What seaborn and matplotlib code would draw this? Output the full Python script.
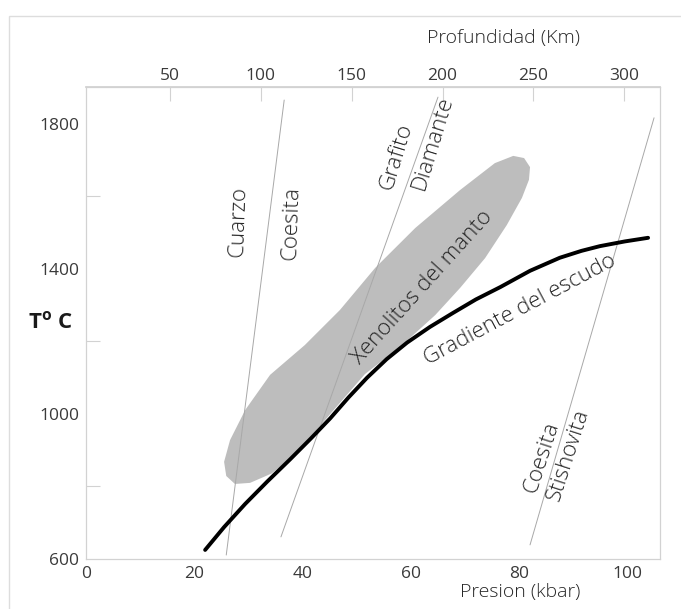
"""Diagrama presion-temperatura: xenolitos del manto y gradiente del escudo."""

import matplotlib

matplotlib.use("Agg")
import matplotlib.pyplot as plt
import seaborn as sns
from matplotlib.patches import Rectangle

# presion (kbar) / temperatura (C)
gradient_p = [22.0, 25.5, 29.4, 33.5, 37.7, 41.5, 45.1, 48.5, 51.9, 55.5, 59.3,
              63.5, 67.8, 72.0, 76.5, 82.0, 87.5, 91.5, 94.9, 99.5, 103.8]
gradient_t = [625, 688, 752, 814, 875, 932, 988, 1046, 1100, 1151, 1197,
              1240, 1279, 1316, 1350, 1395, 1431, 1450, 1463, 1476, 1486]

cuarzo_p = [25.9, 36.6]
cuarzo_t = [611, 1866]
grafito_p = [36.0, 65.0]
grafito_t = [661, 1874]
stishovita_p = [82.0, 104.9]
stishovita_t = [639, 1817]

xenolitos_p = [78.9, 80.9, 82.0, 81.8, 80.5, 77.7, 73.7, 69.1, 64.5, 58.0, 51.5,
               45.1, 39.5, 34.3, 30.3, 27.5, 25.9, 25.5, 26.6, 29.4, 34.0, 40.4,
               46.9, 53.4, 60.8, 69.1, 75.5]
xenolitos_t = [1712, 1706, 1681, 1646, 1596, 1521, 1430, 1348, 1273, 1185, 1110,
               1000, 900, 836, 810, 807, 829, 868, 928, 1011, 1108, 1190,
               1287, 1403, 1513, 1618, 1692]

pressure_ticks = [0, 20, 40, 60, 80, 100]
temp_major = [600, 1000, 1400, 1800]
temp_minor = [800, 1200, 1600]
depth_ticks = [50, 100, 150, 200, 250, 300]

KM_SLOPE, KM_OFFSET = 2.98, 3.8
TEXT = "#262626"
SPINE = "#d2d2d2"

sns.set_theme(style="white")
plt.rcParams["font.family"] = ["Open Sans", "DejaVu Sans"]

fig = plt.figure(figsize=(6.81, 6.09), dpi=100)
ax = fig.add_axes([86 / 681, 50 / 609, 574 / 681, 472 / 609])
fig.patches.append(Rectangle((9 / 681, -0.1), 1.2, (609 - 16) / 609 + 0.1,
                             transform=fig.transFigure, fill=False,
                             edgecolor="#dddddd", linewidth=1))

ax.fill(xenolitos_p, xenolitos_t, color="#bdbdbd", linewidth=0, zorder=1)
for p, t in [(cuarzo_p, cuarzo_t), (grafito_p, grafito_t), (stishovita_p, stishovita_t)]:
    sns.lineplot(x=p, y=t, sort=False, color="#a8a8a8", linewidth=0.7, ax=ax, zorder=2)
sns.lineplot(x=gradient_p, y=gradient_t, sort=False, color="black", linewidth=2.8,
             ax=ax, zorder=3)

ax.set_xlim(0, 106)
ax.set_ylim(600, 1902)
ax.set_xticks(pressure_ticks)
ax.set_yticks(temp_major)
ax.set_yticks(temp_minor, minor=True)
ax.tick_params(axis="both", which="both", direction="in", length=10, width=0.8,
               color=SPINE, labelsize=12.5, labelcolor="#3a3a3a", pad=5)
ax.tick_params(axis="y", which="minor", left=True)
for spine in ax.spines.values():
    spine.set_color(SPINE)
    spine.set_linewidth(0.9)

top = ax.secondary_xaxis("top", functions=(lambda p: p * KM_SLOPE + KM_OFFSET,
                                           lambda d: (d - KM_OFFSET) / KM_SLOPE))
top.set_xticks(depth_ticks)
top.tick_params(direction="in", length=10, width=0.8, color=SPINE,
                labelsize=12.5, labelcolor="#3a3a3a", pad=2)
top.spines["top"].set_color(SPINE)

ax.set_xlabel("Presion (kbar)", fontsize=14, color=TEXT, fontweight="light")
ax.xaxis.set_label_coords(0.756, -0.05)
ax.text(0.727, 1.104, "Profundidad (Km)", transform=ax.transAxes, fontsize=14,
        color=TEXT, ha="center", va="center", fontweight="light")
ax.text(-0.062, 0.502, r"T$^\mathregular{o}$ C", transform=ax.transAxes,
        fontsize=16, fontweight="bold", color="#1a1a1a", ha="center", va="center")

labels = [
    ("Cuarzo", 28.1, 1530, 88),
    ("Coesita", 37.9, 1527, 88),
    ("Grafito", 57.4, 1709, 73),
    ("Diamante", 64.1, 1748, 73),
    ("Xenolitos del manto", 62.2, 1348, 48),
    ("Gradiente del escudo", 80.1, 1287, 28),
    ("Coesita", 84.2, 881, 72),
    ("Stishovita", 89.0, 887, 72),
]
for text, x, y, rot in labels:
    ax.text(x, y, text, rotation=rot, rotation_mode="anchor", fontsize=16,
            color=TEXT, ha="center", va="center", zorder=4, fontweight="light")

fig.savefig("out.png", dpi=100)
